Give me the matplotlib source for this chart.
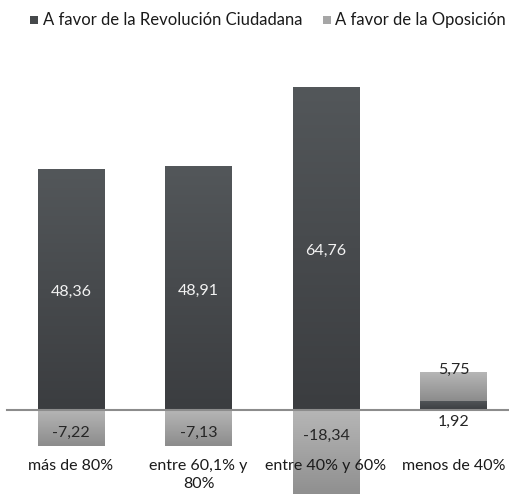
import matplotlib.pyplot as plt
import numpy as np
from matplotlib.patches import Rectangle

plt.rcParams['font.family'] = ['Lato', 'DejaVu Sans']

categories = ['más de 80%', 'entre 60,1% y\n80%', 'entre 40% y 60%', 'menos de 40%']
revolucion = [48.36, 48.91, 64.76, 1.92]
oposicion = [-7.22, -7.13, -18.34, 5.75]
series_names = ['A favor de la Revolución Ciudadana', 'A favor de la Oposición']


def fmt(v):
    return f'{v:.2f}'.replace('.', ',')


def gradient_bar(ax, x, bottom, height, width, top_col, bot_col):
    rect = Rectangle((x - width / 2, bottom), width, height,
                     facecolor='none', edgecolor='none', zorder=2)
    ax.add_patch(rect)
    c1 = np.array(plt.matplotlib.colors.to_rgb(top_col))
    c2 = np.array(plt.matplotlib.colors.to_rgb(bot_col))
    t = np.linspace(0, 1, 64)[:, None]
    img = (c1 * (1 - t) + c2 * t)[:, None, :]
    y0, y1 = min(bottom, bottom + height), max(bottom, bottom + height)
    im = ax.imshow(img, extent=(x - width / 2, x + width / 2, y0, y1),
                   origin='upper', aspect='auto', zorder=2,
                   interpolation='bilinear')
    im.set_clip_path(rect)


fig = plt.figure(figsize=(5.09, 4.94), dpi=100)
ax = fig.add_axes([0, 0, 1, 1])
ax.set_xlim(-0.557, 3.435)
ax.set_ylim(-16.77, 82.2)
ax.axis('off')

x = np.arange(len(categories))
w = 0.52
dark_top, dark_bot = '#53575a', '#3b3d40'
gray_top, gray_bot = '#b6b6b6', '#8c8c8c'

for i in x:
    r, o = revolucion[i], oposicion[i]
    gradient_bar(ax, i, 0, r, w, dark_top, dark_bot)
    if o < 0:
        gradient_bar(ax, i, 0, o, w, gray_top, gray_bot)
        ly = max(o / 2 - 0.9, -5.1)
        ax.text(i, ly, fmt(o), ha='center', va='center', fontsize=11.5,
                color='#262626', zorder=4)
        ax.text(i, r / 2 - 0.5, fmt(r), ha='center', va='center', fontsize=11.5,
                color='#f2f2f2', zorder=4)
    else:
        gradient_bar(ax, i, r, o, w, gray_top, gray_bot)
        ax.text(i, r + o + 0.4, fmt(o), ha='center', va='center', fontsize=11.5,
                color='#262626', zorder=4)
        ax.text(i, -2.3, fmt(r), ha='center', va='center', fontsize=11.5,
                color='#262626', zorder=4)

ax.plot([-0.5, 3.6], [0, 0], color='#8c8c8c', lw=1.5, zorder=3)

for i, c in zip(x, categories):
    ax.text(i, -9.8, c, ha='center', va='top', fontsize=11.5, color='#1a1a1a',
            linespacing=1.3, zorder=4)

# legend
fig.patches.append(Rectangle((30 / 509, 1 - 24 / 494), 8 / 509, 8 / 494,
                             transform=fig.transFigure, facecolor='#46494b',
                             edgecolor='none'))
fig.text(43 / 509, 1 - 20 / 494, series_names[0], ha='left', va='center',
         fontsize=12, color='#1a1a1a')
fig.patches.append(Rectangle((323 / 509, 1 - 24 / 494), 8 / 509, 8 / 494,
                             transform=fig.transFigure, facecolor='#a6a6a6',
                             edgecolor='none'))
fig.text(335 / 509, 1 - 20 / 494, series_names[1], ha='left', va='center',
         fontsize=12, color='#1a1a1a')

fig.savefig('out.png', dpi=100)
